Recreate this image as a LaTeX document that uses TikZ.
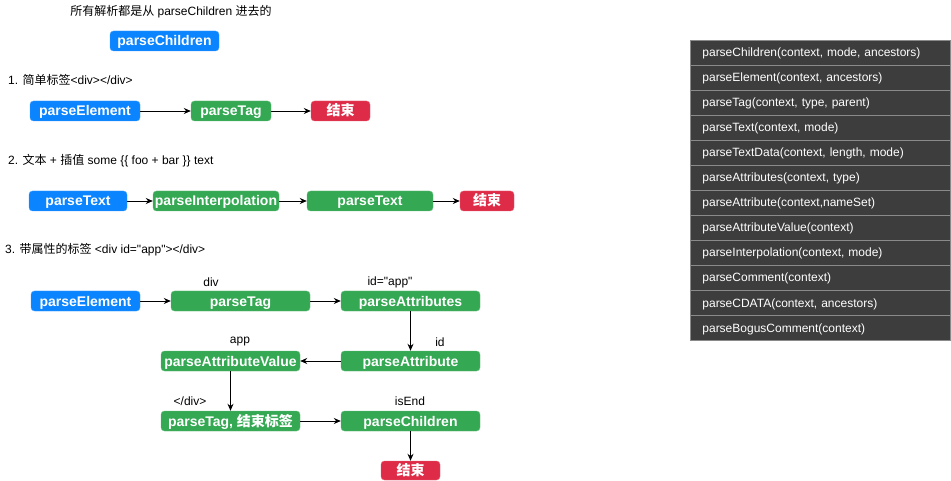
\documentclass[tikz,border=0pt]{standalone}
\usepackage{fontspec}
\setmainfont{Liberation Sans}
\newfontfamily\qf{Liberation Sans}[Ligatures=TeXOff]
\newfontfamily\cjk{Noto Sans CJK SC}
\usetikzlibrary{arrows.meta}
\definecolor{bboxc}{HTML}{0A84FF}
\definecolor{gboxc}{HTML}{34A853}
\definecolor{rboxc}{HTML}{DE2C48}
\definecolor{tabfill}{HTML}{3D3D3D}
\definecolor{tabline}{HTML}{8A8A8A}
\newcommand{\dq}{{\qf"}}
\tikzset{
  fbox/.style={rounded corners=3.5pt, minimum height=20pt, inner sep=0pt, text=white,
    text height=11.5pt, text depth=1.5pt,
    font=\bfseries\fontsize{14}{14}\selectfont},
  bluebox/.style={fbox, fill=bboxc, draw=bboxc!75!white},
  greenbox/.style={fbox, fill=gboxc, draw=gboxc!75!white},
  redbox/.style={fbox, fill=rboxc, draw=rboxc!75!white},
  lbl/.style={font=\fontsize{12}{12}\selectfont, inner sep=0pt},
  conn/.style={draw=black, line width=0.9pt, -{Stealth[length=7pt,width=6pt]}},
  trow/.style={draw=tabline, fill=tabfill, line width=0.8pt, minimum width=260pt, minimum height=25pt,
    text=white, font=\fontsize{12}{12}\selectfont, inner xsep=12pt, inner ysep=0pt,
    text height=10pt, text depth=1pt, text width=236pt, align=left, anchor=west}
}
\begin{document}
\begin{tikzpicture}[x=1pt,y=-1pt]
\useasboundingbox (0,0) rectangle (951,481);

% title
\node[lbl] (title) at (171,12) {{\cjk 所有解析都是从} parseChildren {\cjk 进去的}};
\node[bluebox, minimum width=109pt] (pc0) at (164.5,41) {parseChildren};

% section 1
\node[lbl, anchor=west] (s1) at (8,80) {1. {\cjk 简单标签}<div></div>};
\node[bluebox, minimum width=110pt] (r1a) at (85,111) {parseElement};
\node[greenbox, minimum width=80pt] (r1b) at (231,111) {parseTag};
\node[redbox, minimum width=59pt] (r1c) at (340.5,111) {\cjk\bfseries 结束};
\draw[conn] (r1a) -- (r1b);
\draw[conn] (r1b) -- (r1c);

% section 2
\node[lbl, anchor=west] (s2) at (8,161) {2. {\cjk 文本} + {\cjk 插值} some \{\{ foo + bar \}\} text};
\node[bluebox, minimum width=98pt] (r2a) at (78,201) {parseText};
\node[greenbox, minimum width=126pt] (r2b) at (216,201) {parseInterpolation};
\node[greenbox, minimum width=126pt] (r2c) at (370,201) {parseText};
\node[redbox, minimum width=54pt] (r2d) at (487,201) {\cjk\bfseries 结束};
\draw[conn] (r2a) -- (r2b);
\draw[conn] (r2b) -- (r2c);
\draw[conn] (r2c) -- (r2d);

% section 3
\node[lbl, anchor=west] (s3) at (5,250) {3. {\cjk 带属性的标签} <div id=\dq app\dq></div>};
\node[bluebox, minimum width=109pt] (r3a) at (85.5,301) {parseElement};
\node[greenbox, minimum width=139pt] (r3b) at (240.5,301) {parseTag};
\node[greenbox, minimum width=139pt] (r3c) at (410.5,301) {parseAttributes};
\node[greenbox, minimum width=139pt] (r3d) at (410.5,361) {parseAttribute};
\node[greenbox, minimum width=139pt] (r3e) at (230.5,361) {parseAttributeValue};
\node[greenbox, minimum width=139pt] (r3f) at (230.5,421) {parseTag, {\cjk\bfseries 结束标签}};
\node[greenbox, minimum width=139pt] (r3g) at (410.5,421) {parseChildren};
\node[redbox, minimum width=59pt, minimum height=19pt] (r3h) at (410.5,470.5) {\cjk\bfseries 结束};

\node[lbl] (ldiv) at (211,282) {div};
\node[lbl] (lidapp) at (390,282) {id=\dq app\dq};
\node[lbl] (lapp) at (240,342) {app};
\node[lbl] (lid) at (440,342) {id};
\node[lbl] (lediv) at (190,401) {</div>};
\node[lbl] (lisend) at (410,401) {isEnd};

\draw[conn] (r3a) -- (r3b);
\draw[conn] (r3b) -- (r3c);
\draw[conn] (r3c) -- (r3d);
\draw[conn] (r3d) -- (r3e);
\draw[conn] (r3e) -- (r3f);
\draw[conn] (r3f) -- (r3g);
\draw[conn] (r3g) -- (r3h);

% table
\node[trow] (t1) at (690,52.5) {parseChildren(context, mode, ancestors)};
\node[trow] (t2) at (690,77.5) {parseElement(context, ancestors)};
\node[trow] (t3) at (690,102.5) {parseTag(context, type, parent)};
\node[trow] (t4) at (690,127.5) {parseText(context, mode)};
\node[trow] (t5) at (690,152.5) {parseTextData(context, length, mode)};
\node[trow] (t6) at (690,177.5) {parseAttributes(context, type)};
\node[trow] (t7) at (690,202.5) {parseAttribute(context,nameSet)};
\node[trow] (t8) at (690,227.5) {parseAttributeValue(context)};
\node[trow] (t9) at (690,252.5) {parseInterpolation(context, mode)};
\node[trow] (t10) at (690,277.5) {parseComment(context)};
\node[trow] (t11) at (690,302.5) {parseCDATA(context, ancestors)};
\node[trow] (t12) at (690,327.5) {parseBogusComment(context)};
\end{tikzpicture}
\end{document}
